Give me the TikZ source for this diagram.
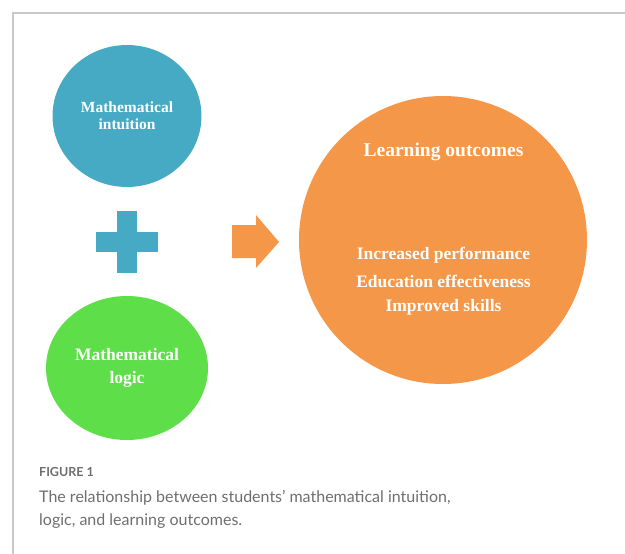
\documentclass[tikz,border=0pt]{standalone}
\usepackage{fontspec}
\setmainfont{Liberation Serif}
\newfontfamily\capfont{Lato}
\usepackage{tikz}
\usetikzlibrary{shapes.geometric}

\definecolor{intuitionblue}{RGB}{71,170,196}
\definecolor{logicgreen}{RGB}{94,222,72}
\definecolor{outcomeorange}{RGB}{244,151,72}
\definecolor{framegray}{RGB}{200,200,200}
\definecolor{captiongray}{RGB}{110,110,110}

\tikzset{
	every bubble/.style={
		ellipse,
		draw=none,
		text=white,
		align=center,
		font=\bfseries
	},
	bubble intuition/.style={
		fill=intuitionblue,
		minimum width=149pt,
		minimum height=142pt,
		font=\bfseries\fontsize{15.5}{17}\selectfont
	},
	bubble logic/.style={
		fill=logicgreen,
		minimum width=162pt,
		minimum height=144pt,
		font=\bfseries\fontsize{17.5}{23}\selectfont
	},
	bubble outcomes/.style={
		fill=outcomeorange,
		minimum width=288pt,
		minimum height=288pt
	},
	caption text/.style={
		anchor=west,
		text=captiongray,
		inner sep=0pt
	},
}

\begin{document}
\begin{tikzpicture}[x=1pt, y=-1pt]

\useasboundingbox (0,0) rectangle (625,554);

% frame
\draw [framegray, line width=1.5pt] (13,554) -- (13,13) -- (625,13);

% the three bubbles
\foreach \m/\x/\y/\t in {intuition/127/116/{Mathematical\\intuition},
                         logic/127/368/{Mathematical\\logic}}
	\node [every bubble/.try, bubble \m/.try] (bubble-\m) at (\x,\y) {\t};

\node [every bubble/.try, bubble outcomes/.try] (bubble-outcomes) at (443,240) {};

% texts of the big bubble
\node [text=white, font=\bfseries\fontsize{19.5}{22}\selectfont]
	(outcomes-title) at (443.5,152) {Learning outcomes};
\foreach \l [count=\i] in {Increased performance, Education effectiveness, Improved skills}
	\node [text=white, font=\bfseries\fontsize{17.5}{20}\selectfont]
		(outcome-\i) at (443.5,229+26*\i) {\l};

% plus sign
\coordinate (plus) at (127,242);
\fill [intuitionblue] ([shift={(-31,-10)}]plus) rectangle ([shift={(31,10)}]plus);
\fill [intuitionblue] ([shift={(-10,-31)}]plus) rectangle ([shift={(10,31)}]plus);

% block arrow
\fill [outcomeorange] (232,225) -- (256,225) -- (256,215) -- (279,242)
	-- (256,268) -- (256,258) -- (232,258) -- cycle;

% caption
\node [caption text, font=\capfont\bfseries\fontsize{12.5}{14}\selectfont]
	(caption-label) at (39,472) {FIGURE 1};
\node [caption text, font=\capfont\fontsize{16}{23}\selectfont, align=left]
	(caption-body) at (39,509)
	{The relationship between students’ mathematical intuition,\\logic, and learning outcomes.};

\end{tikzpicture}
\end{document}
